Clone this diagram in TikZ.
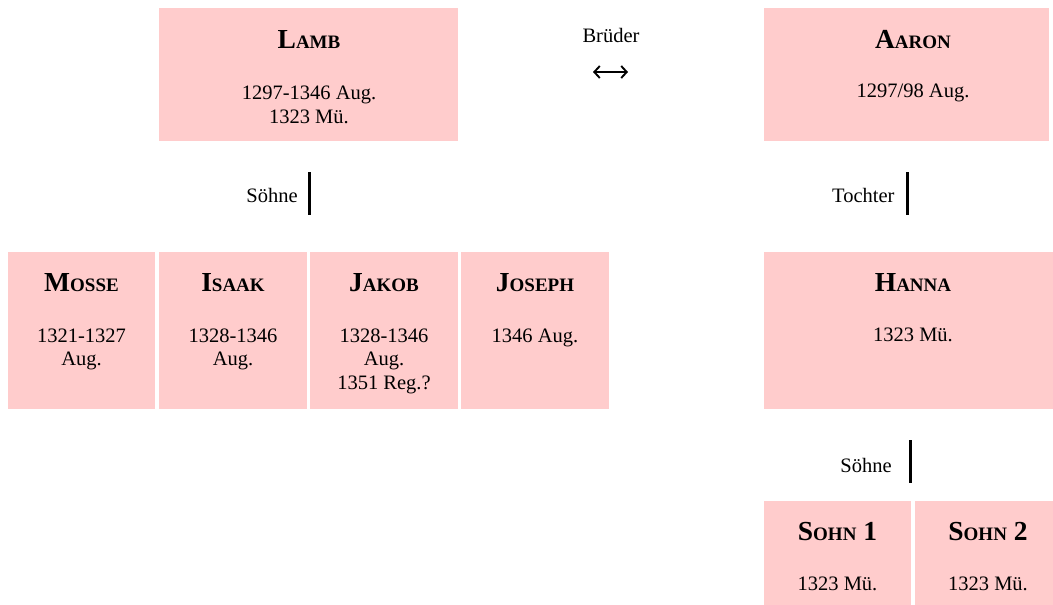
\documentclass[tikz,border=0pt]{standalone}
\usepackage{fontspec}
\setmainfont{Liberation Serif}
\usetikzlibrary{arrows.meta}
\definecolor{boxpink}{RGB}{255,204,204}
% bold small capitals: large initial, smaller remaining capitals
\newcommand\initial[1]{{\fontsize{27.5}{30}\selectfont\bfseries #1}}
\newcommand\restcaps[1]{{\fontsize{19}{22}\selectfont\bfseries #1}}

\begin{document}
\begin{tikzpicture}[x=1pt,y=-1pt,
  person/.style={fill=boxpink, draw=none, inner sep=0pt, anchor=north west, minimum height=#1},
  person/.default=157pt,
  title/.style={anchor=base, inner sep=0pt},
  % the base anchor of a multi-line date block sits on its last line
  dates/.style={anchor=base, inner sep=0pt, align=center, font=\fontsize{20.5}{#1}\selectfont},
  dates/.default=23,
  relation/.style={anchor=base, inner sep=0pt, font=\fontsize{20.5}{21.5}\selectfont},
  bar/.style={line width=3pt},
]
\useasboundingbox (0,0) rectangle (1053,605);

% ---------- parents ----------
\node[person=133pt, minimum width=299pt] (lamb) at (159,8) {};
\node[title] (lambT) at (309,48.5) {\initial{L}\restcaps{AMB}};
\node[dates=24.3] (lambD) at (309,123.3) {1297-1346 Aug.\\1323 Mü.};

\node[person=133pt, minimum width=285pt] (aaron) at (764,8) {};
\node[title] (aaronT) at (913,48.5) {\initial{A}\restcaps{ARON}};
\node[dates] (aaronD) at (913,97.5) {1297/98 Aug.};

% brothers
\node[relation] (brueder) at (611,42.7) {Brüder};
\coordinate (arrL) at (593,72);
\coordinate (arrR) at (628,72);
\draw[line width=1.9pt, {Straight Barb[length=5.5pt,width=12pt]}-{Straight Barb[length=5.5pt,width=12pt]}] (arrL) -- (arrR);

% ---------- sons of Lamb ----------
\node[relation] (soehne1) at (272,202.3) {Söhne};
\coordinate (bar1a) at (309.5,172);
\coordinate (bar1b) at (309.5,215);
\draw[bar] (bar1a) -- (bar1b);

\node[person, minimum width=147pt] (mosse) at (8,252) {};
\node[title] (mosseT) at (81.5,291) {\initial{M}\restcaps{OSSE}};
\node[dates] (mosseD) at (81.5,365.2) {1321-1327\\Aug.};

\node[person, minimum width=147.5pt] (isaak) at (159,252) {};
\node[title] (isaakT) at (233,291) {\initial{I}\restcaps{SAAK}};
\node[dates] (isaakD) at (233,365.2) {1328-1346\\Aug.};

\node[person, minimum width=147.5pt] (jakob) at (310,252) {};
\node[title] (jakobT) at (384,291) {\initial{J}\restcaps{AKOB}};
\node[dates=23.5] (jakobD) at (384,389.3) {1328-1346\\Aug.\\1351 Reg.?};

\node[person, minimum width=148pt] (joseph) at (461,252) {};
\node[title] (josephT) at (535,291) {\initial{J}\restcaps{OSEPH}};
\node[dates] (josephD) at (535,342.3) {1346 Aug.};

% ---------- daughter of Aaron ----------
\node[relation] (tochter) at (863.3,202.3) {Tochter};
\coordinate (bar2a) at (907.3,172.3);
\coordinate (bar2b) at (907.3,215);
\draw[bar] (bar2a) -- (bar2b);

\node[person, minimum width=289pt] (hanna) at (764,252) {};
\node[title] (hannaT) at (913,291) {\initial{H}\restcaps{ANNA}};
\node[dates] (hannaD) at (913,341.7) {1323 Mü.};

% ---------- sons of Hanna ----------
\node[relation] (soehne2) at (866,472.7) {Söhne};
\coordinate (bar3a) at (910,440);
\coordinate (bar3b) at (910,483);
\draw[bar] (bar3a) -- (bar3b);

\node[person=104pt, minimum width=147pt] (sohnA) at (764,501) {};
\node[title] (sohnAT) at (837.5,540.7) {\initial{S}\restcaps{OHN}\initial{~1}};
\node[dates] (sohnAD) at (837.5,590.7) {1323 Mü.};

\node[person=104pt, minimum width=138pt] (sohnB) at (915,501) {};
\node[title] (sohnBT) at (988,540.7) {\initial{S}\restcaps{OHN}\initial{~2}};
\node[dates] (sohnBD) at (988,590.7) {1323 Mü.};
\end{tikzpicture}
\end{document}
